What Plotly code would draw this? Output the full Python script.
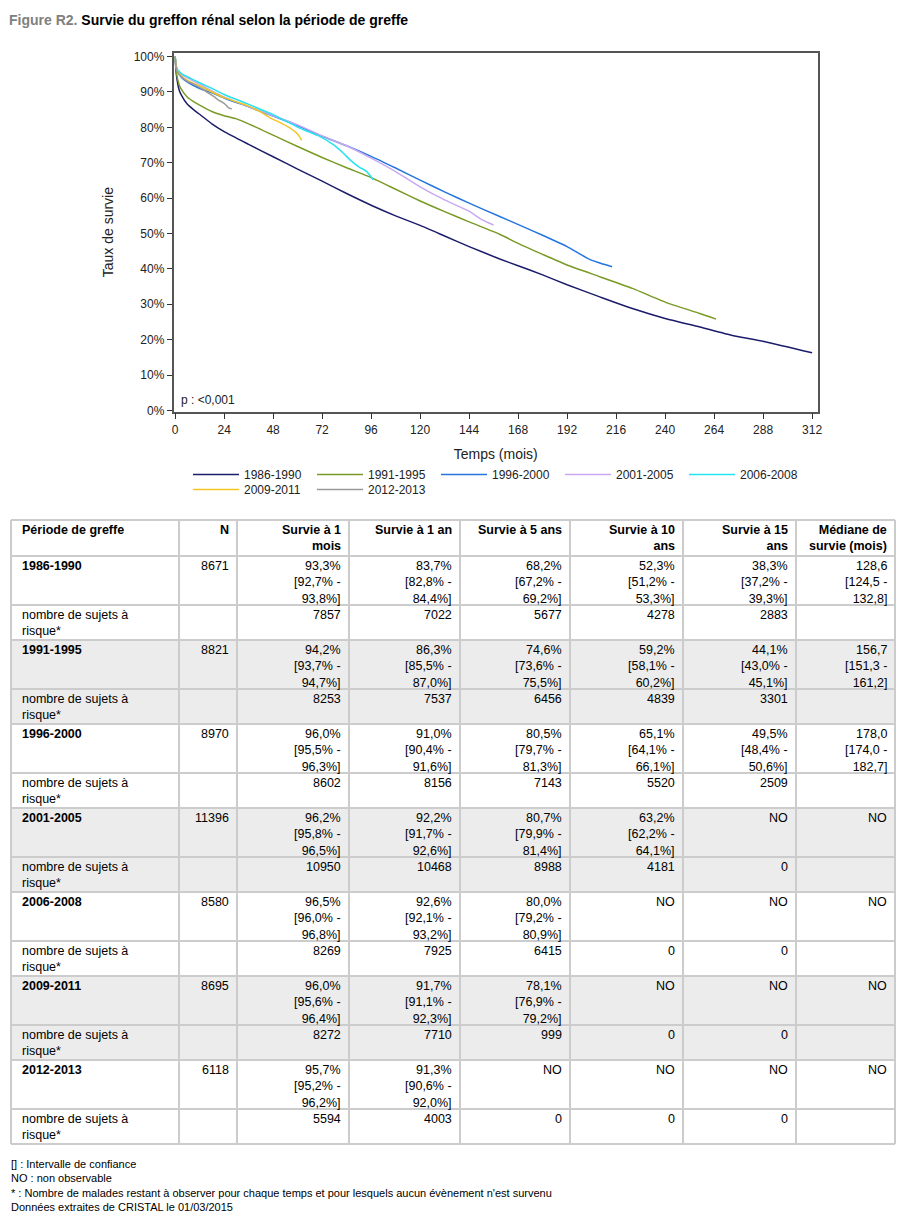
import plotly.graph_objects as go

W, H = 907, 1217

# ---------------- curve data ----------------
periods = ["1986-1990", "1991-1995", "1996-2000", "2001-2005", "2006-2008", "2009-2011", "2012-2013"]
line_colors = ["#1c1c6b", "#7a9a25", "#2475e0", "#c9a9f2", "#26e3ef", "#f2c522", "#9a9a9a"]

t_1986 = [0, 0.5, 1, 2, 3, 6, 9, 12, 18, 24, 36, 48, 60, 72, 84, 96, 108, 120, 132, 144, 159, 168, 180, 192, 208, 224, 240, 257, 273, 290, 312]
s_1986 = [100, 95.5, 93.3, 90.5, 89.2, 86.5, 85.0, 83.7, 81.0, 78.8, 75.2, 71.7, 68.2, 64.8, 61.3, 58.0, 55.0, 52.3, 49.3, 46.3, 42.8, 40.9, 38.3, 35.5, 32.1, 28.8, 26.0, 23.6, 21.2, 19.3, 16.3]

t_1991 = [0, 0.5, 1, 2, 3, 6, 9, 12, 18, 24, 30, 36, 48, 60, 72, 84, 96, 108, 120, 132, 144, 159, 168, 180, 192, 208, 224, 241, 257, 265]
s_1991 = [100, 96.0, 94.2, 92.0, 90.8, 88.5, 87.3, 86.3, 84.5, 83.3, 82.4, 81.0, 77.8, 74.6, 71.5, 68.6, 65.8, 62.5, 59.2, 56.2, 53.3, 49.8, 47.2, 44.1, 41.1, 37.8, 34.5, 30.4, 27.4, 25.8]

t_1996 = [0, 0.5, 1, 2, 3, 6, 12, 18, 24, 36, 48, 60, 72, 84, 96, 108, 120, 133, 144, 159, 169, 180, 192, 203, 210, 214]
s_1996 = [100, 97.2, 96.0, 95.0, 94.2, 92.8, 91.0, 89.8, 88.3, 85.8, 83.2, 80.5, 77.5, 74.8, 71.8, 68.5, 65.1, 61.5, 58.6, 54.8, 52.3, 49.5, 46.3, 42.7, 41.3, 40.6]

t_2001 = [0, 0.5, 1, 2, 3, 6, 12, 18, 24, 36, 48, 60, 72, 84, 96, 108, 120, 132, 144, 150, 156]
s_2001 = [100, 97.4, 96.2, 95.5, 95.0, 94.0, 92.2, 90.3, 88.6, 85.9, 83.3, 80.7, 77.6, 74.8, 71.3, 67.5, 63.2, 59.5, 56.3, 54.0, 52.4]

t_2006 = [0, 0.5, 1, 2, 3, 6, 12, 18, 24, 36, 48, 61, 71, 77.5, 82.4, 85.7, 89.8, 93.9, 97]
s_2006 = [100, 97.6, 96.5, 95.8, 95.2, 94.3, 92.6, 91.0, 89.3, 86.5, 83.6, 79.8, 77.4, 75.1, 72.7, 70.8, 68.9, 67.5, 65.2]

t_2009 = [0, 0.5, 1, 2, 3, 6, 12, 18, 24, 30, 36, 42, 46.5, 52, 56, 60, 62]
s_2009 = [100, 97.3, 96.0, 95.2, 94.5, 93.3, 91.7, 90.0, 88.4, 87.2, 86.0, 84.3, 82.7, 81.2, 79.9, 78.1, 76.3]

t_2012 = [0, 0.5, 1, 2, 3, 6, 9, 12, 15, 18.8, 21, 24, 26, 27.7]
s_2012 = [100, 97.0, 95.7, 95.0, 94.3, 93.0, 92.2, 91.3, 90.2, 88.8, 87.8, 86.8, 85.6, 85.2]

curve_times = [t_1986, t_1991, t_1996, t_2001, t_2006, t_2009, t_2012]
curve_surv = [s_1986, s_1991, s_1996, s_2001, s_2006, s_2009, s_2012]

x_ticks = list(range(0, 313, 24))
y_ticks = list(range(0, 101, 10))

# ---------------- table data ----------------
n_patients = [8671, 8821, 8970, 11396, 8580, 8695, 6118]
surv_1m = [93.3, 94.2, 96.0, 96.2, 96.5, 96.0, 95.7]
ci_1m_lo = [92.7, 93.7, 95.5, 95.8, 96.0, 95.6, 95.2]
ci_1m_hi = [93.8, 94.7, 96.3, 96.5, 96.8, 96.4, 96.2]
surv_1y = [83.7, 86.3, 91.0, 92.2, 92.6, 91.7, 91.3]
ci_1y_lo = [82.8, 85.5, 90.4, 91.7, 92.1, 91.1, 90.6]
ci_1y_hi = [84.4, 87.0, 91.6, 92.6, 93.2, 92.3, 92.0]
surv_5y = [68.2, 74.6, 80.5, 80.7, 80.0, 78.1, None]
ci_5y_lo = [67.2, 73.6, 79.7, 79.9, 79.2, 76.9, None]
ci_5y_hi = [69.2, 75.5, 81.3, 81.4, 80.9, 79.2, None]
surv_10y = [52.3, 59.2, 65.1, 63.2, None, None, None]
ci_10y_lo = [51.2, 58.1, 64.1, 62.2, None, None, None]
ci_10y_hi = [53.3, 60.2, 66.1, 64.1, None, None, None]
surv_15y = [38.3, 44.1, 49.5, None, None, None, None]
ci_15y_lo = [37.2, 43.0, 48.4, None, None, None, None]
ci_15y_hi = [39.3, 45.1, 50.6, None, None, None, None]
median_surv = [128.6, 156.7, 178.0, None, None, None, None]
median_lo = [124.5, 151.3, 174.0, None, None, None, None]
median_hi = [132.8, 161.2, 182.7, None, None, None, None]
risk_1m = [7857, 8253, 8602, 10950, 8269, 8272, 5594]
risk_1y = [7022, 7537, 8156, 10468, 7925, 7710, 4003]
risk_5y = [5677, 6456, 7143, 8988, 6415, 999, 0]
risk_10y = [4278, 4839, 5520, 4181, 0, 0, 0]
risk_15y = [2883, 3301, 2509, 0, 0, 0, 0]

headers = ["Période de greffe", "N", "Survie à 1<br>mois", "Survie à 1 an", "Survie à 5 ans",
           "Survie à 10<br>ans", "Survie à 15<br>ans", "Médiane de<br>survie (mois)"]
risk_label = "nombre de sujets à<br>risque*"

footnotes = ["[] : Intervalle de confiance", "NO : non observable",
             "* : Nombre de malades restant à observer pour chaque temps et pour lesquels aucun évènement n'est survenu",
             "Données extraites de CRISTAL le 01/03/2015"]

# ---------------- helpers ----------------
FONT = "Liberation Sans, Arial, sans-serif"


def px(x):
    return x / W


def py(y):
    return 1 - y / H


def fr(v):
    return f"{v:.1f}".replace(".", ",")


def surv_cell(v, lo, hi, pct=True):
    if v is None:
        return "NO"
    s = "%" if pct else ""
    return f"{fr(v)}{s}<br>[{fr(lo)}{s} -<br>{fr(hi)}{s}]"


fig = go.Figure()

for i, p in enumerate(periods):
    fig.add_trace(go.Scatter(
        x=curve_times[i], y=curve_surv[i], mode="lines", name=p,
        line=dict(color=line_colors[i], width=1.5, shape="spline", smoothing=0.5),
        legend="legend" if i < 5 else "legend2",
        hoverinfo="skip"))

annotations = []
shapes = []

# title
annotations.append(dict(
    x=px(7), y=py(20), xref="paper", yref="paper", xanchor="left", yanchor="middle",
    text="<b><span style='color:#808080'>Figure R2.</span> Survie du greffon rénal selon la période de greffe</b>",
    showarrow=False, font=dict(family=FONT, size=14, color="#000000")))

# p-value
annotations.append(dict(
    x=px(179), y=py(400), xref="paper", yref="paper", xanchor="left", yanchor="middle",
    text="p : <0,001", showarrow=False, font=dict(family=FONT, size=12, color="#222222")))

# ---------------- table layout ----------------
col_x = [11, 179, 237, 349, 460, 570, 683, 796, 895]
table_top = 520
header_h = 36
data_h = 49
risk_h = 35
grid_color = "#cccccc"
band_color = "#ececec"
TFS = 12.5

rows = []
rows.append((headers, header_h, False, True))
for i, p in enumerate(periods):
    shaded = (i % 2 == 1)
    data_cells = [
        f"<b>{p}</b>", str(n_patients[i]),
        surv_cell(surv_1m[i], ci_1m_lo[i], ci_1m_hi[i]),
        surv_cell(surv_1y[i], ci_1y_lo[i], ci_1y_hi[i]),
        surv_cell(surv_5y[i], ci_5y_lo[i], ci_5y_hi[i]),
        surv_cell(surv_10y[i], ci_10y_lo[i], ci_10y_hi[i]),
        surv_cell(surv_15y[i], ci_15y_lo[i], ci_15y_hi[i]),
        surv_cell(median_surv[i], median_lo[i], median_hi[i], pct=False),
    ]
    risk_cells = [risk_label, "", str(risk_1m[i]), str(risk_1y[i]), str(risk_5y[i]),
                  str(risk_10y[i]), str(risk_15y[i]), ""]
    rows.append((data_cells, data_h, shaded, False))
    rows.append((risk_cells, risk_h, shaded, False))

y = table_top
row_bounds = [y]
for cells, h, shaded, is_header in rows:
    if shaded:
        shapes.append(dict(type="rect", xref="paper", yref="paper",
                           x0=px(col_x[0]), x1=px(col_x[-1]), y0=py(y + h), y1=py(y),
                           fillcolor=band_color, line=dict(width=0), layer="below"))
    for c, txt in enumerate(cells):
        if txt == "":
            continue
        if is_header:
            txt = f"<b>{txt}</b>"
        if c == 0:
            ax, anchor, al = px(col_x[0] + 9), "left", "left"
        else:
            ax, anchor, al = px(col_x[c + 1] - 6), "right", "right"
        annotations.append(dict(
            x=ax, y=py(y + 1), xref="paper", yref="paper", xanchor=anchor, yanchor="top",
            align=al, text=txt, showarrow=False,
            font=dict(family=FONT, size=TFS, color="#000000")))
    y += h
    row_bounds.append(y)

for yb in row_bounds:
    shapes.append(dict(type="line", xref="paper", yref="paper",
                       x0=px(col_x[0]), x1=px(col_x[-1]), y0=py(yb), y1=py(yb),
                       line=dict(color=grid_color, width=2)))
for xb in col_x:
    shapes.append(dict(type="line", xref="paper", yref="paper",
                       x0=px(xb), x1=px(xb), y0=py(row_bounds[0]), y1=py(row_bounds[-1]),
                       line=dict(color=grid_color, width=2)))

# footnotes
annotations.append(dict(
    x=px(9), y=py(1156), xref="paper", yref="paper", xanchor="left", yanchor="top",
    align="left", text="<br>".join(footnotes), showarrow=False,
    font=dict(family=FONT, size=11, color="#000000")))

axis_font = dict(family=FONT, size=12, color="#222222")
legend_common = dict(orientation="h", xanchor="left", yanchor="top",
                     itemwidth=46, entrywidth=63, entrywidthmode="pixels",
                     font=dict(family=FONT, size=12, color="#222222"),
                     bgcolor="rgba(0,0,0,0)", borderwidth=0, itemclick=False, itemdoubleclick=False)

fig.update_layout(
    width=W, height=H, autosize=False,
    margin=dict(l=0, r=0, t=0, b=0),
    paper_bgcolor="white", plot_bgcolor="white",
    showlegend=True,
    xaxis=dict(domain=[px(173.5), px(818)], range=[-0.8, 314.9],
               tickvals=x_ticks, ticks="outside", ticklen=6, tickwidth=1, tickcolor="#333333",
               showgrid=False, zeroline=False, showline=True, mirror=True,
               linecolor="#555555", linewidth=1.5, tickfont=axis_font, automargin=False,
               title=dict(text="Temps (mois)", font=dict(family=FONT, size=14, color="#222222"), standoff=14)),
    yaxis=dict(domain=[py(411.5), py(52.7)], range=[-0.3, 101.1],
               tickvals=y_ticks, ticktext=[f"{v}%" for v in y_ticks],
               ticks="outside", ticklen=5, tickwidth=1, tickcolor="#333333",
               showgrid=False, zeroline=False, showline=True, mirror=True,
               linecolor="#555555", linewidth=1.5, tickfont=axis_font, automargin=False,
               title=dict(text="Taux de survie", font=dict(family=FONT, size=14, color="#222222"), standoff=17)),
    legend=dict(x=px(188), y=py(460), **legend_common),
    legend2=dict(x=px(188), y=py(475), **legend_common),
    annotations=annotations,
    shapes=shapes,
)

fig.write_html("out.html",
               config={"displayModeBar": False},
               post_script="document.body.style.margin='0';document.body.style.padding='0';"
                           "document.body.style.overflow='hidden';")
